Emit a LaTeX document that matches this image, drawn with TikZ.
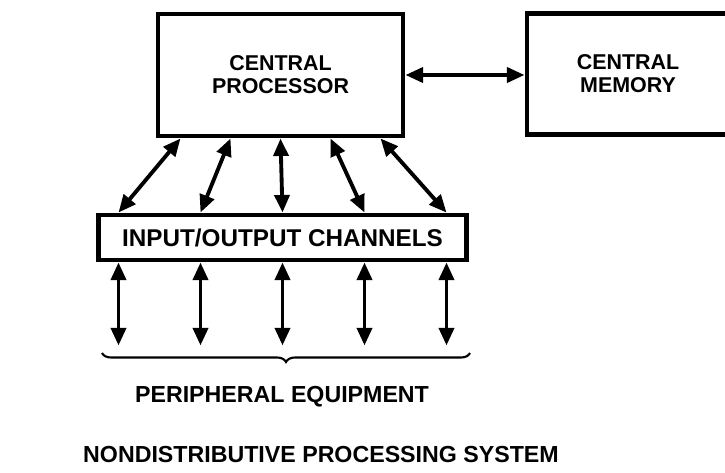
\documentclass[tikz,border=0pt]{standalone}
\usepackage{fontspec}
\setmainfont{Liberation Sans}
\usetikzlibrary{arrows.meta,decorations.pathreplacing}

\tikzset{
	box/.style={draw,line width=2.8pt,inner sep=0pt,align=center,font=\fontsize{12.2}{13}\selectfont\bfseries},
	link/.style={{Triangle[length=10pt,width=8.5pt]}-{Triangle[length=10pt,width=8.5pt]},line width=2.2pt},
	caption/.style={anchor=base,inner sep=0pt}
}

\begin{document}
\begin{tikzpicture}
	\useasboundingbox (0,0) rectangle (14.5,-9.44);
	% the three blocks
	\node[box,minimum width=4.9cm,minimum height=2.44cm] (cp) at (5.61,-1.5) {CENTRAL\\PROCESSOR};
	\node[box,minimum width=4.04cm,minimum height=2.42cm] (cm) at (12.56,-1.48) {CENTRAL\\MEMORY};
	\node[box,minimum width=7.36cm,minimum height=0.9cm,font=\fontsize{13.8}{13.8}\selectfont\bfseries] (io) at (5.65,-4.75) {INPUT/OUTPUT CHANNELS};
	\draw[link] (cp.east) -- (cp.east -| cm.west);
	% channels to processor
	\foreach \i in {-2,...,2}
	\draw[link] ([xshift=\i cm]cp.south) -- ([xshift=\i*1.64cm]io.north);
	% channels to peripherals
	\foreach \i in {-2,...,2}
	\path (io.south) ++(\i*1.64,-1.66) coordinate (pe\i);
	\foreach \i in {-2,...,2}
	\draw[link] (io.south -| pe\i) -- (pe\i);
	\coordinate (bl) at (2.04,-7.06);
	\coordinate (br) at (9.4,-7.06);
	\draw[line width=1.2pt,decorate,decoration={brace,mirror,amplitude=0.18cm}] (bl) -- (br);
	\node[caption,font=\fontsize{13.2}{13.2}\selectfont\bfseries] (peq) at (5.64,-8.04) {PERIPHERAL EQUIPMENT};
	\node[caption,font=\fontsize{13.2}{13.2}\selectfont\bfseries] (title) at (6.42,-9.24) {NONDISTRIBUTIVE PROCESSING SYSTEM};
\end{tikzpicture}
\end{document}
